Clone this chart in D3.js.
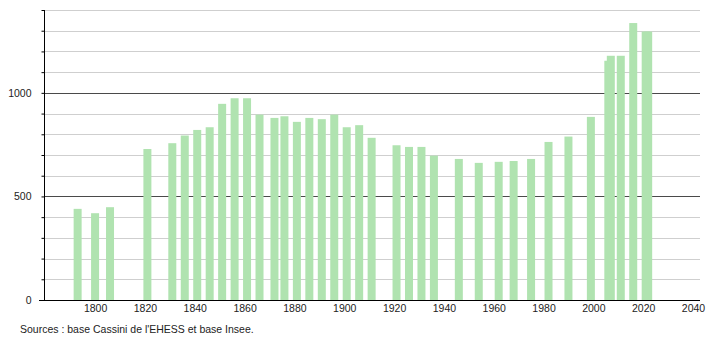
<!DOCTYPE html>
<html lang="fr">
  <head>
    <meta charset="UTF-8" />
    <title>population</title>
    <style>
      body {
        margin: 0;
        background: #fff;
        font-family: "Liberation Sans", Arial, sans-serif;
      }
      svg {
        display: block;
      }
      .lbl {
        font-size: 10.5px;
        fill: #222;
      }
    </style>
  </head>
  <body>
    <script src="https://cdn.jsdelivr.net/npm/d3@7"></script>
    <script>
      // recensements
      const years = [
        1793, 1800, 1806, 1821, 1831, 1836, 1841, 1846, 1851, 1856, 1861,
        1866, 1872, 1876, 1881, 1886, 1891, 1896, 1901, 1906, 1911, 1921,
        1926, 1931, 1936, 1946, 1954, 1962, 1968, 1975, 1982, 1990, 1999,
        2006, 2007, 2011, 2016, 2021, 2022
      ];
      const population = [
        440, 419, 448, 729, 757, 794, 821, 834, 947, 974, 974,
        895, 879, 887, 860, 879, 873, 895, 834, 844, 783, 747,
        739, 739, 697, 681, 662, 667, 671, 681, 763, 789, 884,
        1155, 1179, 1179, 1337, 1296, 1296
      ];
      const yTickLabels = [0, 500, 1000];
      const xTickLabels = [1800, 1820, 1840, 1860, 1880, 1900, 1920, 1940, 1960, 1980, 2000, 2020, 2040];
      const source = "Sources : base Cassini de l'EHESS et base Insee.";

      const width = 710;
      const height = 340;
      const plotLeft = 44;
      const plotRight = 700;
      const plotTop = 10;
      const plotBottom = 300;
      const barWidth = 8;

      const x = d3.scaleLinear().domain([1779.5, 2042.8]).range([plotLeft, plotRight]);
      const y = d3.scaleLinear().domain([0, 1400]).range([plotBottom, plotTop]);

      const svg = d3.select("body").append("svg")
        .attr("width", width)
        .attr("height", height);

      // grille
      const gGrid = svg.append("g");
      const gridVals = d3.range(100, 1401, 100);
      gGrid.selectAll("line")
        .data(gridVals)
        .join("line")
        .attr("x1", plotLeft)
        .attr("x2", plotRight)
        .attr("y1", d => Math.round(y(d)) + 0.5)
        .attr("y2", d => Math.round(y(d)) + 0.5)
        .attr("stroke", d => (d % 500 === 0 ? "#4a4a4a" : "#cfcfcf"))
        .attr("stroke-width", 1);

      // barres
      svg.append("g")
        .selectAll("rect")
        .data(years)
        .join("rect")
        .attr("x", (d, i) => x(d) - barWidth / 2)
        .attr("y", (d, i) => y(population[i]))
        .attr("width", barWidth)
        .attr("height", (d, i) => y(0) - y(population[i]))
        .attr("fill", "#b0e3b0");

      // axe Y
      const yAxis = d3.axisLeft(y)
        .tickValues(d3.range(0, 1401, 100))
        .tickSize(3)
        .tickFormat(d => (yTickLabels.includes(d) ? d : ""));
      const gy = svg.append("g")
        .attr("transform", `translate(${plotLeft + 0.5},0)`)
        .call(yAxis);
      gy.select(".domain").attr("stroke", "#000").attr("d", `M0,${plotTop}V${plotBottom}`);
      gy.selectAll(".tick line").attr("stroke", "#000");
      gy.selectAll(".tick text")
        .attr("class", "lbl")
        .attr("x", -13)
        .attr("font-family", null)
        .attr("font-size", null);

      // axe X
      const xAxis = d3.axisBottom(x)
        .tickValues(xTickLabels)
        .tickSize(0)
        .tickPadding(4)
        .tickFormat(d3.format("d"));
      const gx = svg.append("g")
        .attr("transform", `translate(0,${plotBottom + 0.5})`)
        .call(xAxis);
      gx.select(".domain").attr("stroke", "#000").attr("d", `M${plotLeft - 5},0H${plotRight}`);
      gx.selectAll(".tick text")
        .attr("class", "lbl")
        .attr("font-family", null)
        .attr("font-size", null);

      svg.append("text")
        .attr("class", "lbl")
        .attr("x", 20)
        .attr("y", 333)
        .text(source);
    </script>
  </body>
</html>
